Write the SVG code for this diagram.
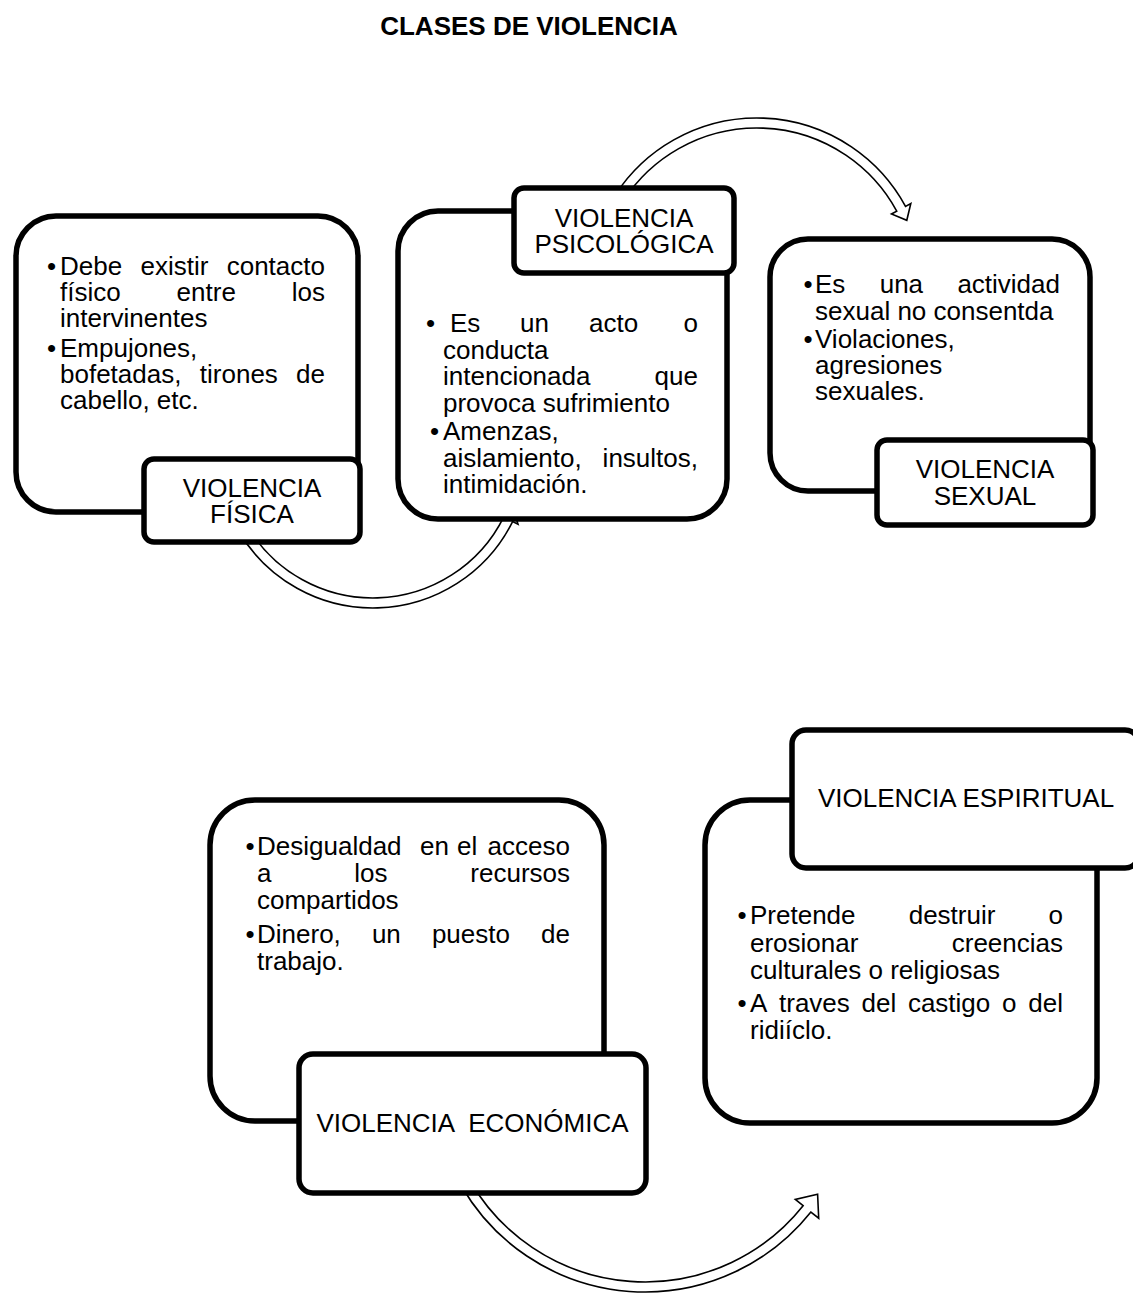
<svg xmlns="http://www.w3.org/2000/svg" width="1133" height="1293" viewBox="0 0 1133 1293">
<style>
text{font-family:"Liberation Sans",Arial,sans-serif;font-size:26px;fill:#000}
.title{font-weight:bold;text-anchor:middle}
.lbl{text-anchor:middle}
.e{text-anchor:end}
.box{fill:#fff;stroke:#000;stroke-width:5.5}
.arr{fill:#fff;stroke:#000;stroke-width:1.6;stroke-linejoin:miter}
</style>
<rect width="1133" height="1293" fill="#fff"/>
<text class="title" x="529" y="35">CLASES DE VIOLENCIA</text>
<g id="connectors">
<path class="arr" d="M237.9,530 A156,156 0 0 0 512.6,521.6 L518,524.3 L513,508.6 L498.3,514.5 L503.7,517.1 A146,146 0 0 1 246.6,525 Z"/>
<path class="arr" d="M615.26,194.96 A169,169 0 0 1 905.5,206.35 L910.8,203.49 L906.8,220.3 L891.46,213.99 L896.73,211.13 A159,159 0 0 0 623.65,200.41 Z"/>
<path class="arr" d="M461.4,1186 A212,212 0 0 0 810.9,1212 L818.7,1218.2 L817.6,1194.2 L795.3,1199.5 L803.1,1205.7 A202,202 0 0 1 470.1,1181 Z"/>
</g>
<g id="fisica">
<rect class="box" x="16" y="216" width="342" height="296" rx="40"/>
<rect class="box" x="144" y="459" width="216" height="83" rx="10"/>
<text class="lbl" x="252" y="497">VIOLENCIA</text>
<text class="lbl" x="252" y="523">FÍSICA</text>
<text y="275"><tspan x="47">•</tspan><tspan x="60">Debe</tspan><tspan x="140.5">existir</tspan></text>
<text class="e" x="325" y="275">contacto</text>
<text y="301"><tspan x="60">físico</tspan><tspan x="176.6">entre</tspan></text>
<text class="e" x="325" y="301">los</text>
<text x="60" y="327">intervinentes</text>
<text y="357"><tspan x="47">•</tspan><tspan x="60">Empujones,</tspan></text>
<text y="383"><tspan x="60">bofetadas,</tspan><tspan x="199.8">tirones</tspan></text>
<text class="e" x="325" y="383">de</text>
<text x="60" y="409">cabello, etc.</text>
</g>
<g id="psicologica">
<rect class="box" x="398" y="211" width="329" height="308" rx="40"/>
<rect class="box" x="514" y="188" width="220" height="85" rx="10"/>
<text class="lbl" x="624" y="227">VIOLENCIA</text>
<text class="lbl" x="624" y="253">PSICOLÓGICA</text>
<text y="332"><tspan x="426">•</tspan><tspan x="450">Es</tspan><tspan x="520">un</tspan><tspan x="589">acto</tspan></text>
<text class="e" x="698" y="332">o</text>
<text x="443" y="358.5">conducta</text>
<text x="443" y="385">intencionada</text>
<text class="e" x="698" y="385">que</text>
<text x="443" y="411.5">provoca sufrimiento</text>
<text y="440"><tspan x="430">•</tspan><tspan x="443">Amenzas,</tspan></text>
<text x="443" y="466.5">aislamiento,</text>
<text class="e" x="698" y="466.5">insultos,</text>
<text x="443" y="493">intimidación.</text>
</g>
<g id="sexual">
<rect class="box" x="770" y="239" width="320" height="252" rx="38"/>
<rect class="box" x="877" y="440" width="216" height="85" rx="10"/>
<text class="lbl" x="985" y="478">VIOLENCIA</text>
<text class="lbl" x="985" y="505">SEXUAL</text>
<text y="293"><tspan x="803.5">•</tspan><tspan x="815">Es</tspan><tspan x="879.7">una</tspan></text>
<text class="e" x="1060" y="293">actividad</text>
<text x="815" y="319.5">sexual no consentda</text>
<text y="348"><tspan x="803.5">•</tspan><tspan x="815">Violaciones,</tspan></text>
<text x="815" y="374">agresiones</text>
<text x="815" y="400">sexuales.</text>
</g>
<g id="economica">
<rect class="box" x="210" y="800" width="394" height="321" rx="45"/>
<rect class="box" x="299" y="1054" width="347" height="139" rx="14"/>
<text class="lbl" x="472.5" y="1132" xml:space="preserve">VIOLENCIA  ECONÓMICA</text>
<text y="855"><tspan x="245.5">•</tspan><tspan x="257">Desigualdad</tspan><tspan x="420">en</tspan><tspan x="457">el</tspan></text>
<text class="e" x="570" y="855">acceso</text>
<text y="882"><tspan x="257">a</tspan><tspan x="354.3">los</tspan></text>
<text class="e" x="570" y="882">recursos</text>
<text x="257" y="909">compartidos</text>
<text y="943"><tspan x="245.5">•</tspan><tspan x="257">Dinero,</tspan><tspan x="371.9">un</tspan><tspan x="431.9">puesto</tspan></text>
<text class="e" x="570" y="943">de</text>
<text x="257" y="970">trabajo.</text>
</g>
<g id="espiritual">
<rect class="box" x="705" y="800" width="392" height="323" rx="45"/>
<rect class="box" x="792" y="730" width="347" height="138" rx="14"/>
<text class="lbl" x="966" y="807">VIOLENCIA ESPIRITUAL</text>
<text y="924"><tspan x="737.5">•</tspan><tspan x="750">Pretende</tspan><tspan x="908.7">destruir</tspan></text>
<text class="e" x="1063" y="924">o</text>
<text x="750" y="951.5">erosionar</text>
<text class="e" x="1063" y="951.5">creencias</text>
<text x="750" y="979">culturales o religiosas</text>
<text y="1012"><tspan x="737.5">•</tspan><tspan x="750">A</tspan><tspan x="779">traves</tspan><tspan x="861.5">del</tspan><tspan x="907.9">castigo</tspan><tspan x="1002">o</tspan></text>
<text class="e" x="1063" y="1012">del</text>
<text x="750" y="1039">ridiíclo.</text>
</g>
</svg>
